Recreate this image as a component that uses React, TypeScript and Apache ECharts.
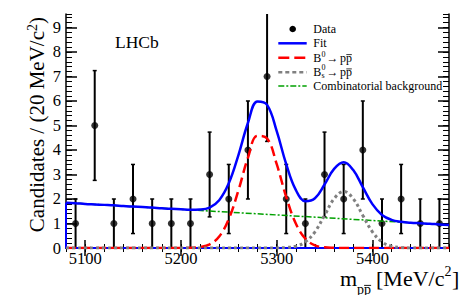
import React, { useEffect, useRef } from "react";
import * as echarts from "echarts";

// ---- data ----
const massBins = [5090, 5110, 5130, 5150, 5170, 5190, 5210, 5230, 5250, 5270, 5290, 5310, 5330, 5350, 5370, 5390, 5410, 5430, 5450, 5470];
const candidates = [1, 5, 1, 2, 1, 1, 1, 3, 2, 4, 7, 2, 1, 3, 2, 4, 1, 2, 1, 1];
const candErr = [1, 2.24, 1, 1.41, 1, 1, 1, 1.73, 1.41, 2, 2.65, 1.41, 1, 1.73, 1.41, 2, 1, 1.41, 1, 1];

const curveMass = [5080, 5090, 5100, 5110, 5120, 5130, 5140, 5150, 5160, 5170, 5180, 5190, 5200, 5210, 5220, 5230, 5240, 5250, 5260, 5270, 5280, 5290, 5300, 5310, 5320, 5330, 5340, 5350, 5360, 5370, 5380, 5390, 5400, 5410, 5420, 5430, 5440, 5450, 5460, 5470, 5480];
const fitCurve = [1.85, 1.83, 1.8, 1.78, 1.76, 1.74, 1.71, 1.69, 1.67, 1.65, 1.62, 1.6, 1.58, 1.56, 1.57, 1.65, 1.95, 2.64, 3.78, 5.1, 5.98, 5.84, 4.78, 3.42, 2.37, 1.91, 2.03, 2.59, 3.23, 3.5, 3.18, 2.48, 1.79, 1.35, 1.15, 1.07, 1.03, 1.01, 0.99, 0.96, 0.94];
const b0Curve = [0, 0, 0, 0, 0, 0, 0, 0, 0, 0, 0, 0, 0, 0.01, 0.04, 0.15, 0.47, 1.18, 2.34, 3.68, 4.58, 4.47, 3.43, 2.08, 1.0, 0.38, 0.11, 0.03, 0.01, 0, 0, 0, 0, 0, 0, 0, 0, 0, 0, 0, 0];
const bsCurve = [0, 0, 0, 0, 0, 0, 0, 0, 0, 0, 0, 0, 0, 0, 0, 0, 0, 0, 0, 0, 0, 0, 0, 0.02, 0.07, 0.25, 0.66, 1.33, 2.01, 2.31, 2.01, 1.33, 0.66, 0.25, 0.07, 0.02, 0, 0, 0, 0, 0];
const bkgMass = [5080, 5480];
const bkgCurve = [1.85, 0.94];

const xTickValues = [5100, 5200, 5300, 5400];
const yTickValues = [0, 1, 2, 3, 4, 5, 6, 7, 8, 9];

const FONT = '"Liberation Serif", "Times New Roman", serif';
const BLUE = "#0000ff";
const RED = "#ff0000";
const GRAY = "#808080";
const GREEN = "#00a000";

function txt(x: number, y: number, text: string, size: number, extra: any = {}) {
  return {
    type: "text",
    x,
    y,
    silent: true,
    style: {
      text,
      fontSize: size,
      fontFamily: FONT,
      fill: "#000",
      align: "left",
      textAlign: "left",
      verticalAlign: "middle",
      textVerticalAlign: "middle",
      ...extra,
    },
  };
}
function seg(x1: number, y1: number, x2: number, y2: number, stroke: string, lineWidth: number, lineDash?: number[]) {
  return {
    type: "line",
    silent: true,
    shape: { x1, y1, x2, y2 },
    style: { stroke, lineWidth, lineDash: lineDash || null },
  };
}

export default function App() {
  const ref = useRef<HTMLDivElement>(null);
  useEffect(() => {
    document.body.style.margin = "0";
    const chart = echarts.init(ref.current!, null, { renderer: "svg" });
    const axisBase = {
      type: "value",
      splitLine: { show: false },
    };
    const xMin = 5080, xMax = 5480, yMin = 0, yMax = 9.55;
    const lineStyleAxis = { color: "#000", width: 1.5 };
    const plain = (v: number) => String(v);
    const option: any = {
      animation: false,
      backgroundColor: "#fff",
      grid: { left: 66, top: 14, right: 24, bottom: 47 },
      xAxis: [
        {
          ...axisBase, min: xMin, max: xMax, position: "bottom",
          axisLine: { show: true, lineStyle: lineStyleAxis },
          axisTick: { show: true, inside: true, length: 8, customValues: xTickValues, lineStyle: lineStyleAxis },
          axisLabel: { show: true, customValues: xTickValues, formatter: plain, margin: 2, fontSize: 16.5, fontFamily: FONT, color: "#000" },
        },
        {
          ...axisBase, min: xMin, max: xMax, interval: 20, position: "bottom",
          axisLine: { show: false },
          axisTick: { show: true, inside: true, length: 4, lineStyle: { color: "#000", width: 1 } },
          axisLabel: { show: false },
        },
        {
          ...axisBase, min: xMin, max: xMax, position: "top",
          axisLine: { show: true, lineStyle: lineStyleAxis },
          axisTick: { show: true, inside: true, length: 8, customValues: xTickValues, lineStyle: lineStyleAxis },
          axisLabel: { show: false },
        },
        {
          ...axisBase, min: xMin, max: xMax, interval: 20, position: "top",
          axisLine: { show: false },
          axisTick: { show: true, inside: true, length: 4, lineStyle: { color: "#000", width: 1 } },
          axisLabel: { show: false },
        },
      ],
      yAxis: [
        {
          ...axisBase, min: yMin, max: yMax, position: "left",
          axisLine: { show: true, lineStyle: lineStyleAxis },
          axisTick: { show: true, inside: true, length: 11, customValues: yTickValues, lineStyle: lineStyleAxis },
          axisLabel: { show: true, customValues: yTickValues, formatter: plain, margin: 5, fontSize: 16.5, fontFamily: FONT, color: "#000" },
        },
        {
          ...axisBase, min: yMin, max: yMax, interval: 0.2, position: "left",
          axisLine: { show: false },
          axisTick: { show: true, inside: true, length: 6, lineStyle: { color: "#000", width: 1 } },
          axisLabel: { show: false },
        },
        {
          ...axisBase, min: yMin, max: yMax, position: "right",
          axisLine: { show: true, lineStyle: lineStyleAxis },
          axisTick: { show: true, inside: true, length: 11, customValues: yTickValues, lineStyle: lineStyleAxis },
          axisLabel: { show: false },
        },
        {
          ...axisBase, min: yMin, max: yMax, interval: 0.2, position: "right",
          axisLine: { show: false },
          axisTick: { show: true, inside: true, length: 6, lineStyle: { color: "#000", width: 1 } },
          axisLabel: { show: false },
        },
      ],
      series: [
        {
          name: "FitEdge",
          type: "line",
          data: [[curveMass[curveMass.length - 1], 0], [curveMass[0], 0], [curveMass[0], fitCurve[0]]],
          showSymbol: false,
          lineStyle: { color: BLUE, width: 2 },
          silent: true,
        },
        {
          name: "Combinatorial background",
          type: "line",
          data: bkgMass.map((m, i) => [m, bkgCurve[i]]),
          showSymbol: false,
          lineStyle: { color: GREEN, width: 1.5, type: [6, 2, 2, 2] },
        },
        {
          name: "B0",
          type: "line",
          smooth: 0.4,
          data: curveMass.map((m, i) => [m, b0Curve[i]]),
          showSymbol: false,
          lineStyle: { color: RED, width: 2.5, type: [10, 5] },
        },
        {
          name: "Bs",
          type: "line",
          smooth: 0.4,
          data: curveMass.map((m, i) => [m, bsCurve[i]]),
          showSymbol: false,
          lineStyle: { color: GRAY, width: 3, type: [3, 3] },
        },
        {
          name: "Fit",
          type: "line",
          smooth: 0.4,
          data: curveMass.map((m, i) => [m, fitCurve[i]]),
          showSymbol: false,
          lineStyle: { color: BLUE, width: 2.5 },
        },
        {
          name: "DataErr",
          type: "custom",
          clip: true,
          data: massBins.map((m, i) => [m, candidates[i], candErr[i]]),
          encode: { x: 0, y: 1 },
          renderItem: (params: any, api: any) => {
            const x = api.value(0), y = api.value(1), e = api.value(2);
            const top = api.coord([x, y + e]);
            const bot = api.coord([x, y - e]);
            const st = { stroke: "#000", lineWidth: 2 };
            return {
              type: "group",
              children: [
                { type: "line", shape: { x1: top[0], y1: top[1], x2: bot[0], y2: bot[1] }, style: st },
                { type: "line", shape: { x1: top[0] - 2, y1: top[1], x2: top[0] + 2, y2: top[1] }, style: { stroke: "#000", lineWidth: 1.5 } },
                { type: "line", shape: { x1: bot[0] - 2, y1: bot[1], x2: bot[0] + 2, y2: bot[1] }, style: { stroke: "#000", lineWidth: 1.5 } },
              ],
            };
          },
        },
        {
          name: "Data",
          type: "scatter",
          data: massBins.map((m, i) => [m, candidates[i]]),
          symbol: "circle",
          symbolSize: 7,
          itemStyle: { color: "#000" },
        },
      ],
      graphic: [
        txt(115, 42.4, "LHCb", 17.5),
        // legend
        { type: "circle", silent: true, shape: { cx: 292.7, cy: 29, r: 3.3 }, style: { fill: "#000" } },
        txt(313.3, 29, "Data", 12),
        seg(278.3, 43.3, 306.7, 43.3, BLUE, 2.5),
        txt(313.3, 43.3, "Fit", 12),
        seg(278.3, 57.7, 306.7, 57.7, RED, 2.5, [11, 5]),
        txt(313.3, 58, "B", 12),
        txt(321.5, 54, "0", 8),
        txt(326.5, 58, "\u2192", 12),
        txt(340, 58, "pp", 12),
        seg(346.3, 54.6, 351.8, 54.6, "#000", 0.8),
        seg(278.3, 72.3, 306.7, 72.3, GRAY, 2.5, [4, 3]),
        txt(313.3, 72.3, "B", 12),
        txt(321.5, 67.4, "0", 8),
        txt(321.5, 75.8, "s", 8),
        txt(326.5, 72.3, "\u2192", 12),
        txt(340, 72.3, "pp", 12),
        seg(346.3, 68.9, 351.8, 68.9, "#000", 0.8),
        seg(278.3, 86, 306.7, 86, GREEN, 1.5, [6, 2, 2, 2]),
        txt(313.3, 86.4, "Combinatorial background", 12),
        // x title
        txt(340, 278, "m", 22),
        txt(357.1, 289, "pp", 14),
        seg(364.1, 285.4, 371.1, 285.4, "#000", 0.9),
        txt(376, 278, "[MeV/c", 22),
        txt(444.5, 271, "2", 14),
        txt(452, 278, "]", 22),
        // y title
        {
          type: "text",
          x: 37,
          y: 17,
          rotation: Math.PI / 2,
          silent: true,
          style: {
            text: "{a|Candidates / (20 MeV/c}{b|2}{a|)}",
            align: "right",
            textAlign: "right",
            verticalAlign: "middle",
            textVerticalAlign: "middle",
            fill: "#000",
            rich: {
              a: { fontSize: 21, fontFamily: FONT, lineHeight: 24, fill: "#000" },
              b: { fontSize: 14, fontFamily: FONT, lineHeight: 14, verticalAlign: "top", fill: "#000" },
            },
          },
        },
      ],
    };
    chart.setOption(option);
    return () => chart.dispose();
  }, []);
  return <div ref={ref} style={{ width: 473, height: 295 }} />;
}
